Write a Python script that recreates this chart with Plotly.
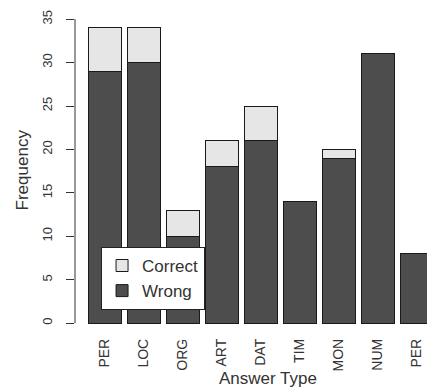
import plotly.graph_objects as go

categories = ["PER", "LOC", "ORG", "ART", "DAT", "TIM", "MON", "NUM", "PER"]
wrong = [29, 30, 10, 18, 21, 14, 19, 31, 8]
correct = [5, 4, 3, 3, 4, 0, 1, 0, 0]
y_ticks = [0, 5, 10, 15, 20, 25, 30, 35]

positions = list(range(len(categories)))

FONT = "Liberation Sans, Arial, sans-serif"
TXT = "#333333"

fig = go.Figure()
fig.add_trace(go.Bar(
    x=positions, y=wrong, name="Wrong",
    marker=dict(color="#4d4d4d", line=dict(color="#1a1a1a", width=1)),
))
fig.add_trace(go.Bar(
    x=positions, y=correct, name="Correct",
    marker=dict(color="#e6e6e6", line=dict(color="#1a1a1a", width=1)),
))

fig.update_layout(
    width=427, height=392,
    margin=dict(l=75, r=0, t=16, b=57),
    barmode="stack",
    bargap=0.2 / 1.2,
    plot_bgcolor="white", paper_bgcolor="white",
    font=dict(family=FONT, color=TXT),
    showlegend=True,
    legend=dict(
        x=0.074, y=0.276, xanchor="left", yanchor="top",
        xref="paper", yref="paper",
        traceorder="reversed",
        bgcolor="white", bordercolor="#222222", borderwidth=1,
        font=dict(size=17, family=FONT, color=TXT),
    ),
    xaxis=dict(
        range=[-0.764, 8.262],
        tickmode="array", tickvals=positions, ticktext=categories,
        tickangle=-90, ticks="", showline=False, showgrid=False,
        zeroline=False, tickfont=dict(size=14, family=FONT, color=TXT),
    ),
    yaxis=dict(
        range=[-1.36, 35.36],
        tickmode="array", tickvals=y_ticks,
        tickangle=-90, ticks="outside", ticklen=8, tickwidth=1,
        tickcolor="#333333", ticklabelstandoff=9,
        showline=False, showgrid=False, zeroline=False,
        tickfont=dict(size=13, family=FONT, color=TXT),
    ),
    shapes=[dict(
        type="line", xref="paper", yref="y",
        x0=0, x1=0, y0=y_ticks[0], y1=y_ticks[-1],
        line=dict(color="#333333", width=1),
    )],
    annotations=[
        dict(text="Frequency", xref="paper", yref="paper",
             x=-0.1506, y=0.519, xanchor="center", yanchor="middle",
             textangle=-90, showarrow=False,
             font=dict(size=17, family=FONT, color=TXT)),
        dict(text="Answer Type", xref="paper", yref="paper",
             x=0.548, y=-0.1348, xanchor="center", yanchor="middle",
             showarrow=False,
             font=dict(size=17, family=FONT, color=TXT)),
    ],
)

fig.write_html(
    "out.html",
    config={"displayModeBar": False},
    post_script="document.body.style.margin='0';document.body.style.overflow='hidden';",
)
